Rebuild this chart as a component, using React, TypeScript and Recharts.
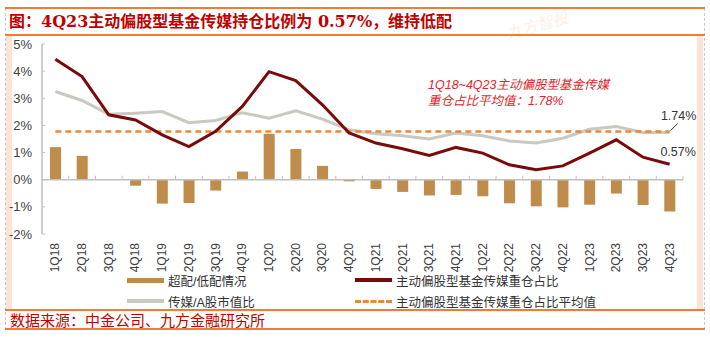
import React from "react";
import { ComposedChart, Bar, Line, XAxis, YAxis, ReferenceLine, LabelList } from "recharts";

const quarters = [
  "1Q18", "2Q18", "3Q18", "4Q18", "1Q19", "2Q19", "3Q19", "4Q19",
  "1Q20", "2Q20", "3Q20", "4Q20", "1Q21", "2Q21", "3Q21", "4Q21",
  "1Q22", "2Q22", "3Q22", "4Q22", "1Q23", "2Q23", "3Q23", "4Q23",
];
// 主动偏股型基金传媒重仓占比
const fundWeight = [
  4.44, 3.8, 2.39, 2.2, 1.65, 1.22, 1.78, 2.7,
  3.98, 3.65, 2.76, 1.72, 1.35, 1.14, 0.89, 1.19,
  0.98, 0.55, 0.37, 0.51, 0.98, 1.47, 0.83, 0.57,
];
// 传媒/A股市值比
const marketWeight = [
  3.25, 2.92, 2.41, 2.45, 2.51, 2.1, 2.18, 2.47,
  2.27, 2.54, 2.23, 1.84, 1.69, 1.62, 1.5, 1.72,
  1.62, 1.43, 1.35, 1.53, 1.86, 1.96, 1.74, 1.74,
];
// 超配/低配情况
const overweight = [
  1.2, 0.88, 0, -0.22, -0.88, -0.86, -0.4, 0.3,
  1.69, 1.13, 0.51, -0.06, -0.34, -0.45, -0.58, -0.56,
  -0.61, -0.87, -0.98, -1.02, -0.92, -0.51, -0.93, -1.17,
];
const avgWeight = 1.78;
const yTicks = [-2, -1, 0, 1, 2, 3, 4, 5];

const data = quarters.map((q, i) => ({
  q,
  bar: overweight[i],
  fund: fundWeight[i],
  mkt: marketWeight[i],
}));

const C_BAR = "#BF8C4C";
const C_FUND = "#7A0A0A";
const C_MKT = "#C9C9BF";
const C_AVG = "#E8883A";
const RED = "#C00000";
const FONT = "'Liberation Sans', Arial, 'Noto Sans CJK SC', sans-serif";
const CJK = "'Noto Sans CJK SC', 'Liberation Sans', sans-serif";

const legendItems = [
  { name: "超配/低配情况", kind: "bar", color: C_BAR },
  { name: "主动偏股型基金传媒重仓占比", kind: "line", color: C_FUND },
  { name: "传媒/A股市值比", kind: "line", color: C_MKT },
  { name: "主动偏股型基金传媒重仓占比平均值", kind: "dash", color: C_AVG },
];

const last = quarters.length - 1;

function XTick(props: any) {
  const { x, y, payload } = props;
  return (
    <text
      transform={`translate(${x},${y + 7}) rotate(-90)`}
      textAnchor="end"
      dominantBaseline="central"
      fontSize={12}
      fill="#404040"
      fontFamily={FONT}
    >
      {payload.value}
    </text>
  );
}

function YTick(props: any) {
  const { x, y, payload } = props;
  return (
    <g>
      <line x1={42} x2={45} y1={y} y2={y} stroke="#BFBFBF" />
      <text x={x - 10} y={y} textAnchor="end" dominantBaseline="central" fontSize={13} fill="#404040" fontFamily={FONT}>
        {payload.value}%
      </text>
    </g>
  );
}

function ZeroAxis(props: any) {
  const { x1, x2, y1 } = props;
  const n = quarters.length;
  const step = (x2 - x1) / n;
  const ticks = [];
  for (let i = 1; i <= n; i++) {
    ticks.push(<line key={i} x1={x1 + i * step} x2={x1 + i * step} y1={y1} y2={y1 - 4} stroke="#BFBFBF" />);
  }
  return (
    <g>
      <line x1={x1} x2={x2} y1={y1} y2={y1} stroke="#BFBFBF" strokeWidth={1.5} />
      {ticks}
    </g>
  );
}

const lastLabel = (dx: number, dy: number, leader?: boolean) => (props: any) => {
  const { x, y, value, index } = props;
  if (index !== last) return null;
  return (
    <g>
      {leader && <line x1={x + 1} y1={y - 2} x2={x + 8} y2={y - 9} stroke="#333" strokeWidth={1} />}
      <text x={x + dx} y={y + dy} textAnchor="middle" dominantBaseline="central" fontSize={12.5} fill="#333" fontFamily={FONT}>
        {value.toFixed(2)}%
      </text>
    </g>
  );
};

function BarLastLabel(props: any) {
  const { x, y, width, height, value, index } = props;
  if (index !== last) return null;
  const bottom = Math.max(y, y + height);
  return (
    <text x={x + width / 2} y={bottom + 13.5} textAnchor="middle" dominantBaseline="central" fontSize={12.5} fill="#333" fontFamily={FONT}>
      {value.toFixed(2)}%
    </text>
  );
}

function Swatch({ kind, color }: { kind: string; color: string }) {
  if (kind === "bar") return <div style={{ width: 37, height: 5, background: color }} />;
  if (kind === "line") return <div style={{ width: 37, height: 3.5, background: color }} />;
  return <div style={{ width: 37, height: 0, borderTop: `3px dashed ${color}` }} />;
}

export default function App() {
  return (
    <div style={{ position: "absolute", left: 0, top: 0, width: 710, height: 338, background: "#fff", overflow: "hidden" }}>
      {/* frame */}
      <div style={{ position: "absolute", left: 5, top: 8, width: 0, height: 322, borderLeft: "1px dashed #C8C8C8" }} />
      <div style={{ position: "absolute", left: 704, top: 8, width: 0, height: 322, borderLeft: "1px dashed #C8C8C8" }} />
      <div style={{ position: "absolute", left: 6, top: 36, width: 6, height: 274, background: "#FBE3D5" }} />
      <div style={{ position: "absolute", left: 697, top: 36, width: 6, height: 274, background: "#FBE3D5" }} />
      <div
        style={{
          position: "absolute", left: 505, top: 12, fontSize: 16, fontStyle: "italic",
          color: "#FDF0E6", fontFamily: CJK, transform: "rotate(-15deg)", whiteSpace: "nowrap",
        }}
      >
        九方智投
      </div>
      <div style={{ position: "absolute", left: 5, top: 7, width: 700, height: 2, background: "#EE7D31" }} />
      <div style={{ position: "absolute", left: 5, top: 34, width: 700, height: 2, background: "#EE7D31" }} />
      <div style={{ position: "absolute", left: 5, top: 309, width: 700, height: 2, background: "#EE7D31" }} />
      <div style={{ position: "absolute", left: 5, top: 328, width: 700, height: 2, background: "#EE7D31" }} />
      <div
        style={{
          position: "absolute", left: 9, top: 10, height: 24, lineHeight: "24px", fontSize: 16,
          fontWeight: "bold", color: RED, fontFamily: "'DejaVu Serif', 'Noto Sans CJK SC', serif", whiteSpace: "nowrap",
        }}
      >
        图：4Q23主动偏股型基金传媒持仓比例为 0.57%，维持低配
      </div>
      <div
        style={{
          position: "absolute", left: 10, top: 311, height: 17, lineHeight: "17px", fontSize: 15,
          color: RED, fontFamily: CJK, whiteSpace: "nowrap",
        }}
      >
        数据来源：中金公司、九方金融研究所
      </div>

      <div style={{ position: "absolute", left: 0, top: 0 }}>
        <ComposedChart width={710} height={338} data={data} margin={{ top: 44, right: 27, left: 0, bottom: 74 }}>
          <XAxis
            dataKey="q"
            axisLine={false}
            tickLine={false}
            tickSize={0}
            interval={0}
            height={30}
            tick={<XTick />}
          />
          <YAxis
            domain={[-2, 5]}
            ticks={yTicks}
            width={42}
            axisLine={{ stroke: "#BFBFBF", strokeWidth: 1.5 }}
            tickLine={false}
            tickSize={0}
            tickMargin={0}
            tick={<YTick />}
            interval={0}
          />
          <ReferenceLine y={0} shape={<ZeroAxis />} />
          <Bar dataKey="bar" fill={C_BAR} barSize={11} isAnimationActive={false}>
            <LabelList dataKey="bar" content={<BarLastLabel />} />
          </Bar>
          <Line dataKey="mkt" stroke={C_MKT} strokeWidth={3} dot={false} type="linear" isAnimationActive={false}>
            <LabelList dataKey="mkt" content={lastLabel(9, -16, true)} />
          </Line>
          <ReferenceLine
            segment={[{ x: quarters[0], y: avgWeight }, { x: quarters[last], y: avgWeight }]}
            stroke={C_AVG}
            strokeWidth={2.5}
            strokeDasharray="6 4"
          />
          <Line dataKey="fund" stroke={C_FUND} strokeWidth={3} dot={false} type="linear" isAnimationActive={false}>
            <LabelList dataKey="fund" content={lastLabel(8.5, -12)} />
          </Line>
        </ComposedChart>
      </div>

      <div
        style={{
          position: "absolute", left: 428, top: 77, fontSize: 12.5, lineHeight: "16px", fontStyle: "italic",
          color: "#E0262B", fontFamily: FONT, whiteSpace: "nowrap",
        }}
      >
        <div>1Q18~4Q23主动偏股型基金传媒</div>
        <div>重仓占比平均值：{avgWeight.toFixed(2)}%</div>
      </div>

      {legendItems.map((it, i) => (
        <div
          key={it.name}
          style={{
            position: "absolute", left: i % 2 === 0 ? 127 : 355, top: i < 2 ? 272 : 293, height: 16,
            display: "flex", alignItems: "center", gap: 4, fontSize: 12.5, color: "#333",
            fontFamily: FONT, whiteSpace: "nowrap",
          }}
        >
          <Swatch kind={it.kind} color={it.color} />
          <span>{it.name}</span>
        </div>
      ))}
    </div>
  );
}
